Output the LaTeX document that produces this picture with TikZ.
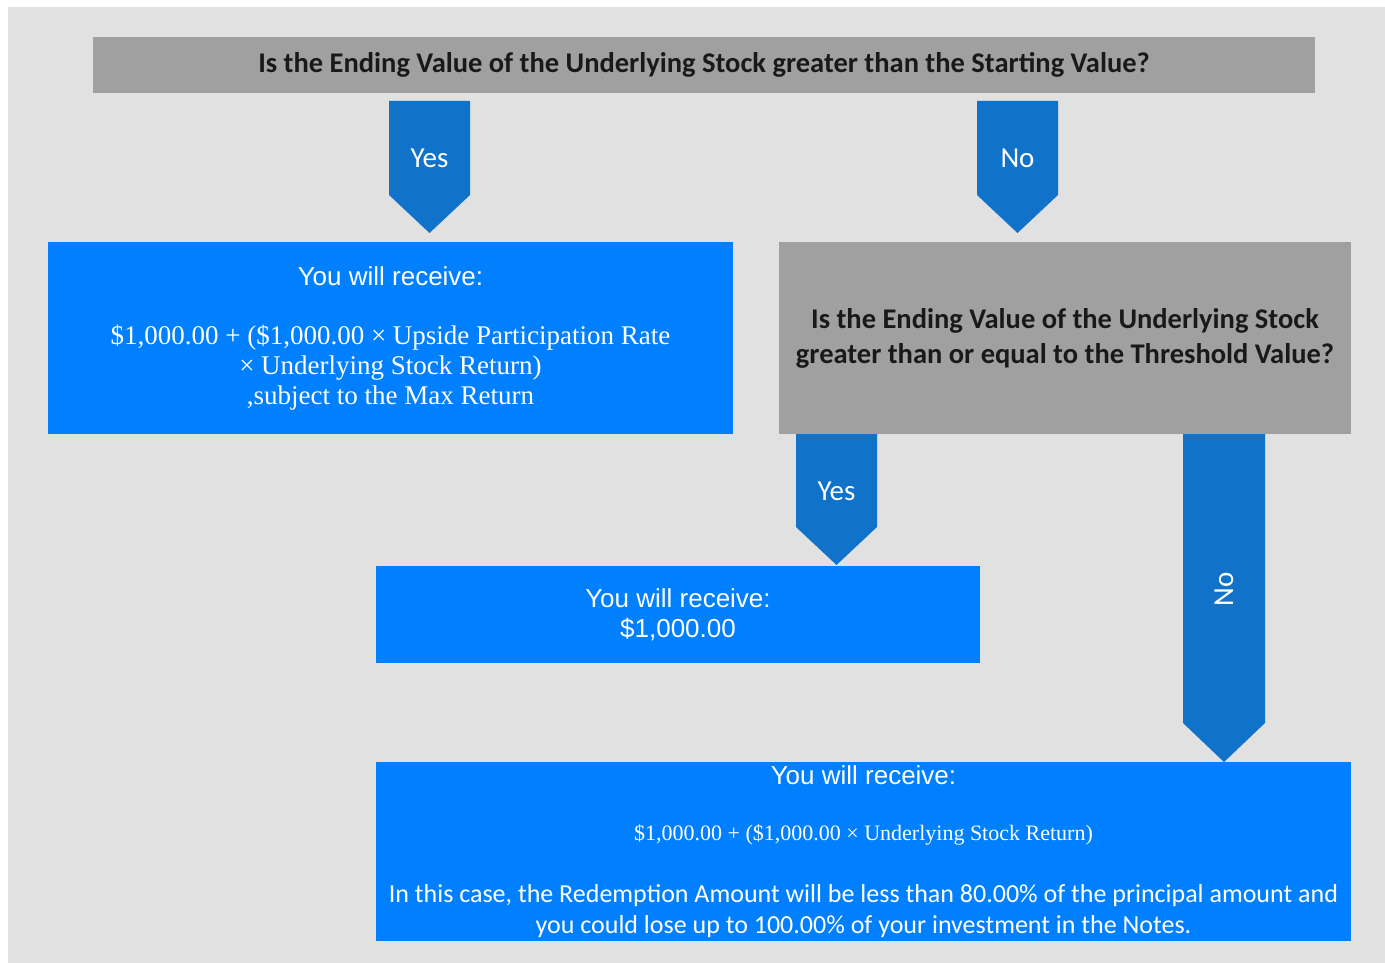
\documentclass[tikz,border=0pt]{standalone}
\usepackage{fontspec}
\usepackage{tikz}
\newfontfamily\carlito{Carlito}
\newfontfamily\libsans{Liberation Sans}
\newfontfamily\libserif{Liberation Serif}
\newcommand{\tms}{\char"00D7}
\newcommand{\recvfont}{\libsans\fontsize{26}{30}\selectfont}
\newcommand{\formfont}{\libserif\fontsize{27}{30}\selectfont}
\newcommand{\smallformfont}{\libserif\fontsize{22}{31}\selectfont}
\newcommand{\notefont}{\carlito\fontsize{26}{31}\selectfont}
\definecolor{bggray}{HTML}{E1E1E1}
\definecolor{qgray}{HTML}{A0A0A0}
\definecolor{boxblue}{HTML}{0080FF}
\definecolor{flowblue}{HTML}{1072C8}
\tikzset{
  qbox/.style={fill=qgray, text=black!90, align=center, inner sep=0pt,
    font=\carlito\bfseries\fontsize{28.5}{35}\selectfont},
  abox/.style={fill=boxblue, text=white, align=center, inner sep=0pt},
  flow/.style={fill=flowblue},
  flowlabel/.style={text=white, font=\carlito\fontsize{29}{30}\selectfont}
}
\begin{document}
\begin{tikzpicture}[x=1pt, y=-1pt]
      \useasboundingbox (0,0) rectangle (1385,963);
      \fill[bggray] (8,7) rectangle (1385,963);
      % questions
      \node[qbox, minimum width=1222, minimum height=56] (q1) at (704,65)
        {Is the Ending Value of the Underlying Stock greater than the Starting Value?};
      \node[qbox, minimum width=572, minimum height=192] (q2) at (1065,338)
        {Is the Ending Value of the Underlying Stock\\greater than or equal to the Threshold Value?};
      % outcomes
      \node[abox, minimum width=685, minimum height=192, font=\formfont] (a1) at (390.5,338)
        {\recvfont You will receive:\\[29pt]
         \$1,000.00 + (\$1,000.00 \tms{} Upside Participation Rate\\
         \tms{} Underlying Stock Return)\\ ,subject to the Max Return};
      \node[abox, minimum width=604, minimum height=97, font=\recvfont] (a2) at (678,614.5)
        {You will receive:\\ \$1,000.00};
      \node[abox, minimum width=975, minimum height=179, font=\notefont] (a3) at (863.5,851.5)
        {\recvfont You will receive:\\[25pt]
         \smallformfont \$1,000.00 + (\$1,000.00 \tms{} Underlying Stock Return)\\[31pt]
         In this case, the Redemption Amount will be less than 80.00\% of the principal amount and\\
         you could lose up to 100.00\% of your investment in the Notes.};
      % flow arrows
      \fill[flow] (389,101) -- (470,101) -- (470,195) -- (429.5,233) -- (389,195) -- cycle;
      \fill[flow] (977,101) -- (1058,101) -- (1058,195) -- (1017.5,233) -- (977,195) -- cycle;
      \fill[flow] (796,434) -- (877,434) -- (877,527) -- (836.5,565) -- (796,527) -- cycle;
      \fill[flow] (1183,434) -- (1265,434) -- (1265,723) -- (1224,762) -- (1183,723) -- cycle;
      \node[flowlabel] (yes1) at (429.5,158) {Yes};
      \node[flowlabel] (no1) at (1017.5,158) {No};
      \node[flowlabel] (yes2) at (836.5,491) {Yes};
      \node[flowlabel, rotate=90] (no2) at (1224,589) {No};
\end{tikzpicture}
\end{document}
